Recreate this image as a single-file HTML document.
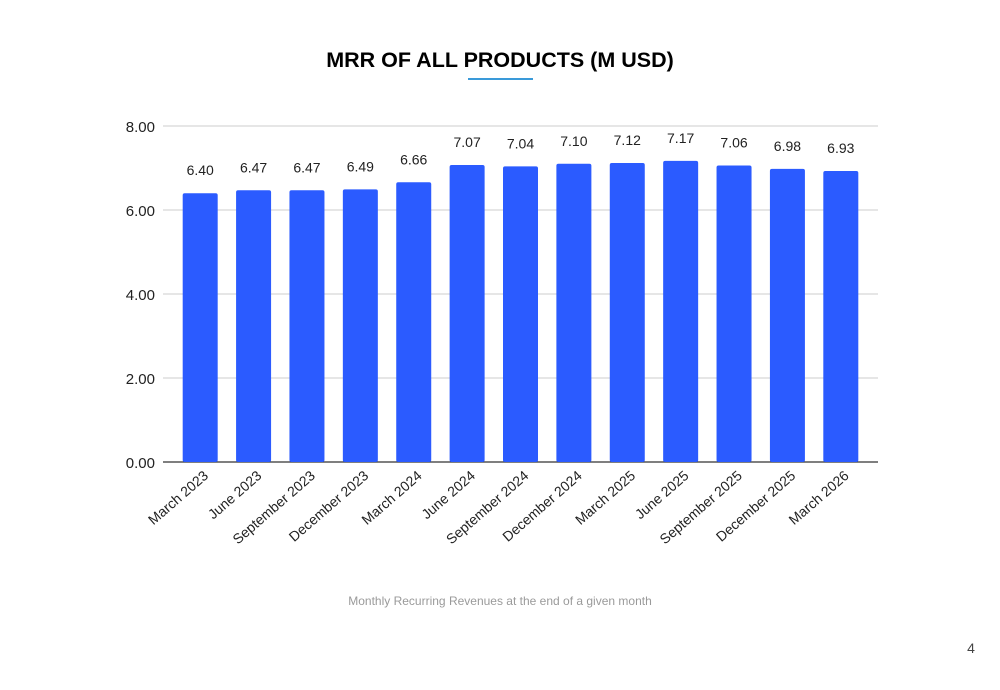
<!DOCTYPE html>
<html><head><meta charset="utf-8"><style>
body{margin:0;background:#fff;width:1000px;height:685px;overflow:hidden;font-family:"Liberation Sans",sans-serif;}
</style></head><body>
<svg id="chart" width="1000" height="685" xmlns="http://www.w3.org/2000/svg" font-family="Liberation Sans, sans-serif">
<text x="500" y="67" text-anchor="middle" font-size="21.5" font-weight="bold" fill="#000">MRR OF ALL PRODUCTS (M USD)</text>
<rect x="468" y="78" width="65" height="2" fill="#3a9ad9"/>
<g id="grid"></g><g id="bars"></g><g id="labels"></g>
<text x="500" y="605" text-anchor="middle" font-size="12" fill="#9a9a9a">Monthly Recurring Revenues at the end of a given month</text>
<text x="971" y="653" text-anchor="middle" font-size="14" fill="#444">4</text>
</svg>
<script>
const categories=["March 2023","June 2023","September 2023","December 2023","March 2024","June 2024","September 2024","December 2024","March 2025","June 2025","September 2025","December 2025","March 2026"];
const values=[6.40,6.47,6.47,6.49,6.66,7.07,7.04,7.10,7.12,7.17,7.06,6.98,6.93];
const yTicks=[0,2,4,6,8];
const NS="http://www.w3.org/2000/svg";
const ax0=163,ax1=878,bx0=173.5,bx1=867.5,y0=462,yTop=126,yMax=8;
const yS=v=>y0-(y0-yTop)*v/yMax;
const step=(bx1-bx0)/categories.length;
const xC=i=>bx0+step*(i+0.5);
function mk(t,a,p){const e=document.createElementNS(NS,t);for(const k in a)e.setAttribute(k,a[k]);p.appendChild(e);return e;}
const grid=document.getElementById('grid'),bars=document.getElementById('bars'),labels=document.getElementById('labels');
yTicks.forEach(v=>{
  const l=mk('line',{x1:ax0,x2:ax1,y1:yS(v),y2:yS(v),stroke:v===0?'#333':'#ccc','stroke-width':v===0?1.3:1},grid);
  
  
  const t=mk('text',{x:155,y:yS(v)+6,'text-anchor':'end','font-size':'15',fill:'#222'},grid);
  t.textContent=v.toFixed(2);
  
  
});
values.forEach((v,i)=>{
  const bw=35;
  const r=mk('rect',{x:xC(i)-bw/2,y:yS(v),width:bw,height:y0-yS(v),rx:2,fill:'#2b5bff'},bars);
  
  
  const t=mk('text',{x:xC(i),y:yS(v)-18,'text-anchor':'middle','font-size':'14',fill:'#222'},labels);
  t.textContent=v.toFixed(2);
  
  
  const cx=xC(i)+9,cy=y0+15;
  const c=mk('text',{x:cx,y:cy,'text-anchor':'end','font-size':'14',fill:'#222',transform:`rotate(-41 ${cx} ${cy})`},labels);
  c.textContent=categories[i];
  
  
});
</script>
</body></html>
